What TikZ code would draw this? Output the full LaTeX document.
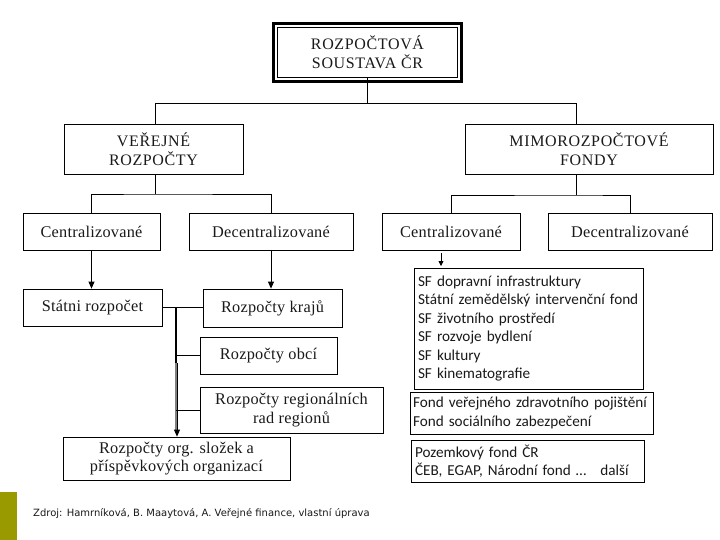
\documentclass[tikz,border=0pt]{standalone}
\usepackage{fontspec}
\setmainfont{Liberation Serif}
\newfontfamily\calfont{Carlito}
\newfontfamily\dvfont{DejaVu Sans}
\usetikzlibrary{arrows.meta}
\definecolor{txt}{RGB}{25,25,25}
\definecolor{olive}{RGB}{153,153,0}
\tikzset{
  box/.style={draw=black, line width=0.8pt, inner sep=0pt, align=center, text=txt,
     font=\fontsize{16.3}{18.5}\selectfont\addfontfeatures{LetterSpace=1.5}},
  capbox/.style={box, font=\fontsize{16}{18.5}\selectfont\addfontfeatures{LetterSpace=4}},
  sfbox/.style={draw=black, line width=0.8pt, inner xsep=4pt, inner ysep=0pt, align=left, text=txt,
     font=\calfont\fontsize{15.2}{18.5}\selectfont},
  conn/.style={line width=0.8pt, draw=black},
  arr/.style={conn, -{Triangle[width=6pt,length=7pt]}},
}
\begin{document}
\begin{tikzpicture}[x=1pt,y=-1pt]
\useasboundingbox (0,0) rectangle (720,540);
% top
\node[capbox, minimum width=180pt, minimum height=50pt] (top) at (367.5,52.5) {ROZPOČTOVÁ\\SOUSTAVA ČR};
\draw[line width=3pt] ([shift={(-4pt,4pt)}]top.north west) rectangle ([shift={(4pt,-4pt)}]top.south east);
% level 2
\node[capbox, minimum width=179pt, minimum height=50pt] (ver) at (153.5,149) {VEŘEJNÉ\\ROZPOČTY};
\node[capbox, minimum width=248pt, minimum height=50pt] (mimo) at (589,149) {MIMOROZPOČTOVÉ\\FONDY};
\coordinate (b1) at (155,103);
\coordinate (b2) at (576,103);
\draw[conn] (top.south) -- (top.south |- b1);
\draw[conn] (b1) -- (b2);
\draw[conn] (b1) -- (b1 |- ver.north);
\draw[conn] (b2) -- (b2 |- mimo.north);
% level 3
\node[box, minimum width=137pt, minimum height=37pt] (lc) at (91.5,231.5) {Centralizované};
\node[box, minimum width=164pt, minimum height=37pt] (ld) at (271,231.5) {Decentralizované};
\node[box, minimum width=138pt, minimum height=37pt] (rc) at (451,231.5) {Centralizované};
\node[box, minimum width=164pt, minimum height=37pt] (rd) at (630,231.5) {Decentralizované};
\coordinate (lb) at (155,194);
\coordinate (rb) at (576,195);
\draw[conn] (ver.south -| lb) -- (lb);
\draw[conn] (lc.north) |- (lb) -| (ld.north);
\draw[conn] (mimo.south -| rb) -- (rb);
\draw[conn] (rc.north) |- (rb) -| (rd.north);
% level 4 left
\node[box, minimum width=139pt, minimum height=37pt] (sr) at (92.5,307.5) {Státni rozpočet};
\node[box, minimum width=139pt, minimum height=38pt] (kr) at (272.5,308) {Rozpočty krajů};
\node[box, minimum width=137pt, minimum height=37pt] (ob) at (268.5,355.5) {Rozpočty obcí};
\node[box, minimum width=183pt, minimum height=46pt] (rr) at (291.5,410) {Rozpočty regionálních\\rad regionů};
\node[box, minimum width=227pt, minimum height=43pt] (org) at (176.5,458.5) {Rozpočty org. složek a\\příspěvkových organizací};
\draw[arr] (lc.south) -- (lc.south |- sr.north);
\draw[arr] (ld.south) -- (ld.south |- kr.north);
\draw[conn] (sr.east) -- (kr.west |- sr.east);
\coordinate (sp1) at (176,307.5);
\coordinate (sp2) at (176,363);
\draw[line width=2.2pt] (sp1) -- (sp2);
\draw[line width=2.6pt, draw=gray] (sp2) -- ([yshift=5pt]sp2 |- org.north);
\draw[arr] ([xshift=1pt]sp2) -- ([xshift=1pt]sp2 |- org.north);
\draw[conn] (ob.west -| sp1) -- (ob.west);
\draw[conn] (rr.west -| sp1) -- (rr.west);
% right column
\node[sfbox, minimum width=229pt, text width=221pt, minimum height=121pt] (sf) at (528.5,328.5)
  {SF dopravní infrastruktury\\Státní zemědělský intervenční fond\\SF životního prostředí\\SF rozvoje bydlení\\SF kultury\\SF kinematografie};
\node[sfbox, inner xsep=3pt, minimum width=243pt, text width=237pt, minimum height=42pt] (fv) at (531.5,413)
  {Fond veřejného zdravotního pojištění\\Fond sociálního zabezpečení};
\node[sfbox, minimum width=233pt, text width=225pt, minimum height=42pt] (pz) at (527.5,461)
  {Pozemkový fond ČR\\ČEB, EGAP, Národní fond \dots\hspace{14pt}další};
\coordinate (ra1) at (441,253);
\coordinate (ra2) at (441,266);
\draw[line width=0.8pt, -{Triangle[width=5pt,length=5pt]}] (ra1) -- (ra2);
% footer
\fill[olive] (0,492) rectangle (17,540);
\node[anchor=west, inner sep=0pt, text=txt, font=\dvfont\fontsize{10}{12}\selectfont] (src) at (33,514)
  {Zdroj: Hamrníková, B. Maaytová, A. Veřejné finance, vlastní úprava};
\end{tikzpicture}
\end{document}
